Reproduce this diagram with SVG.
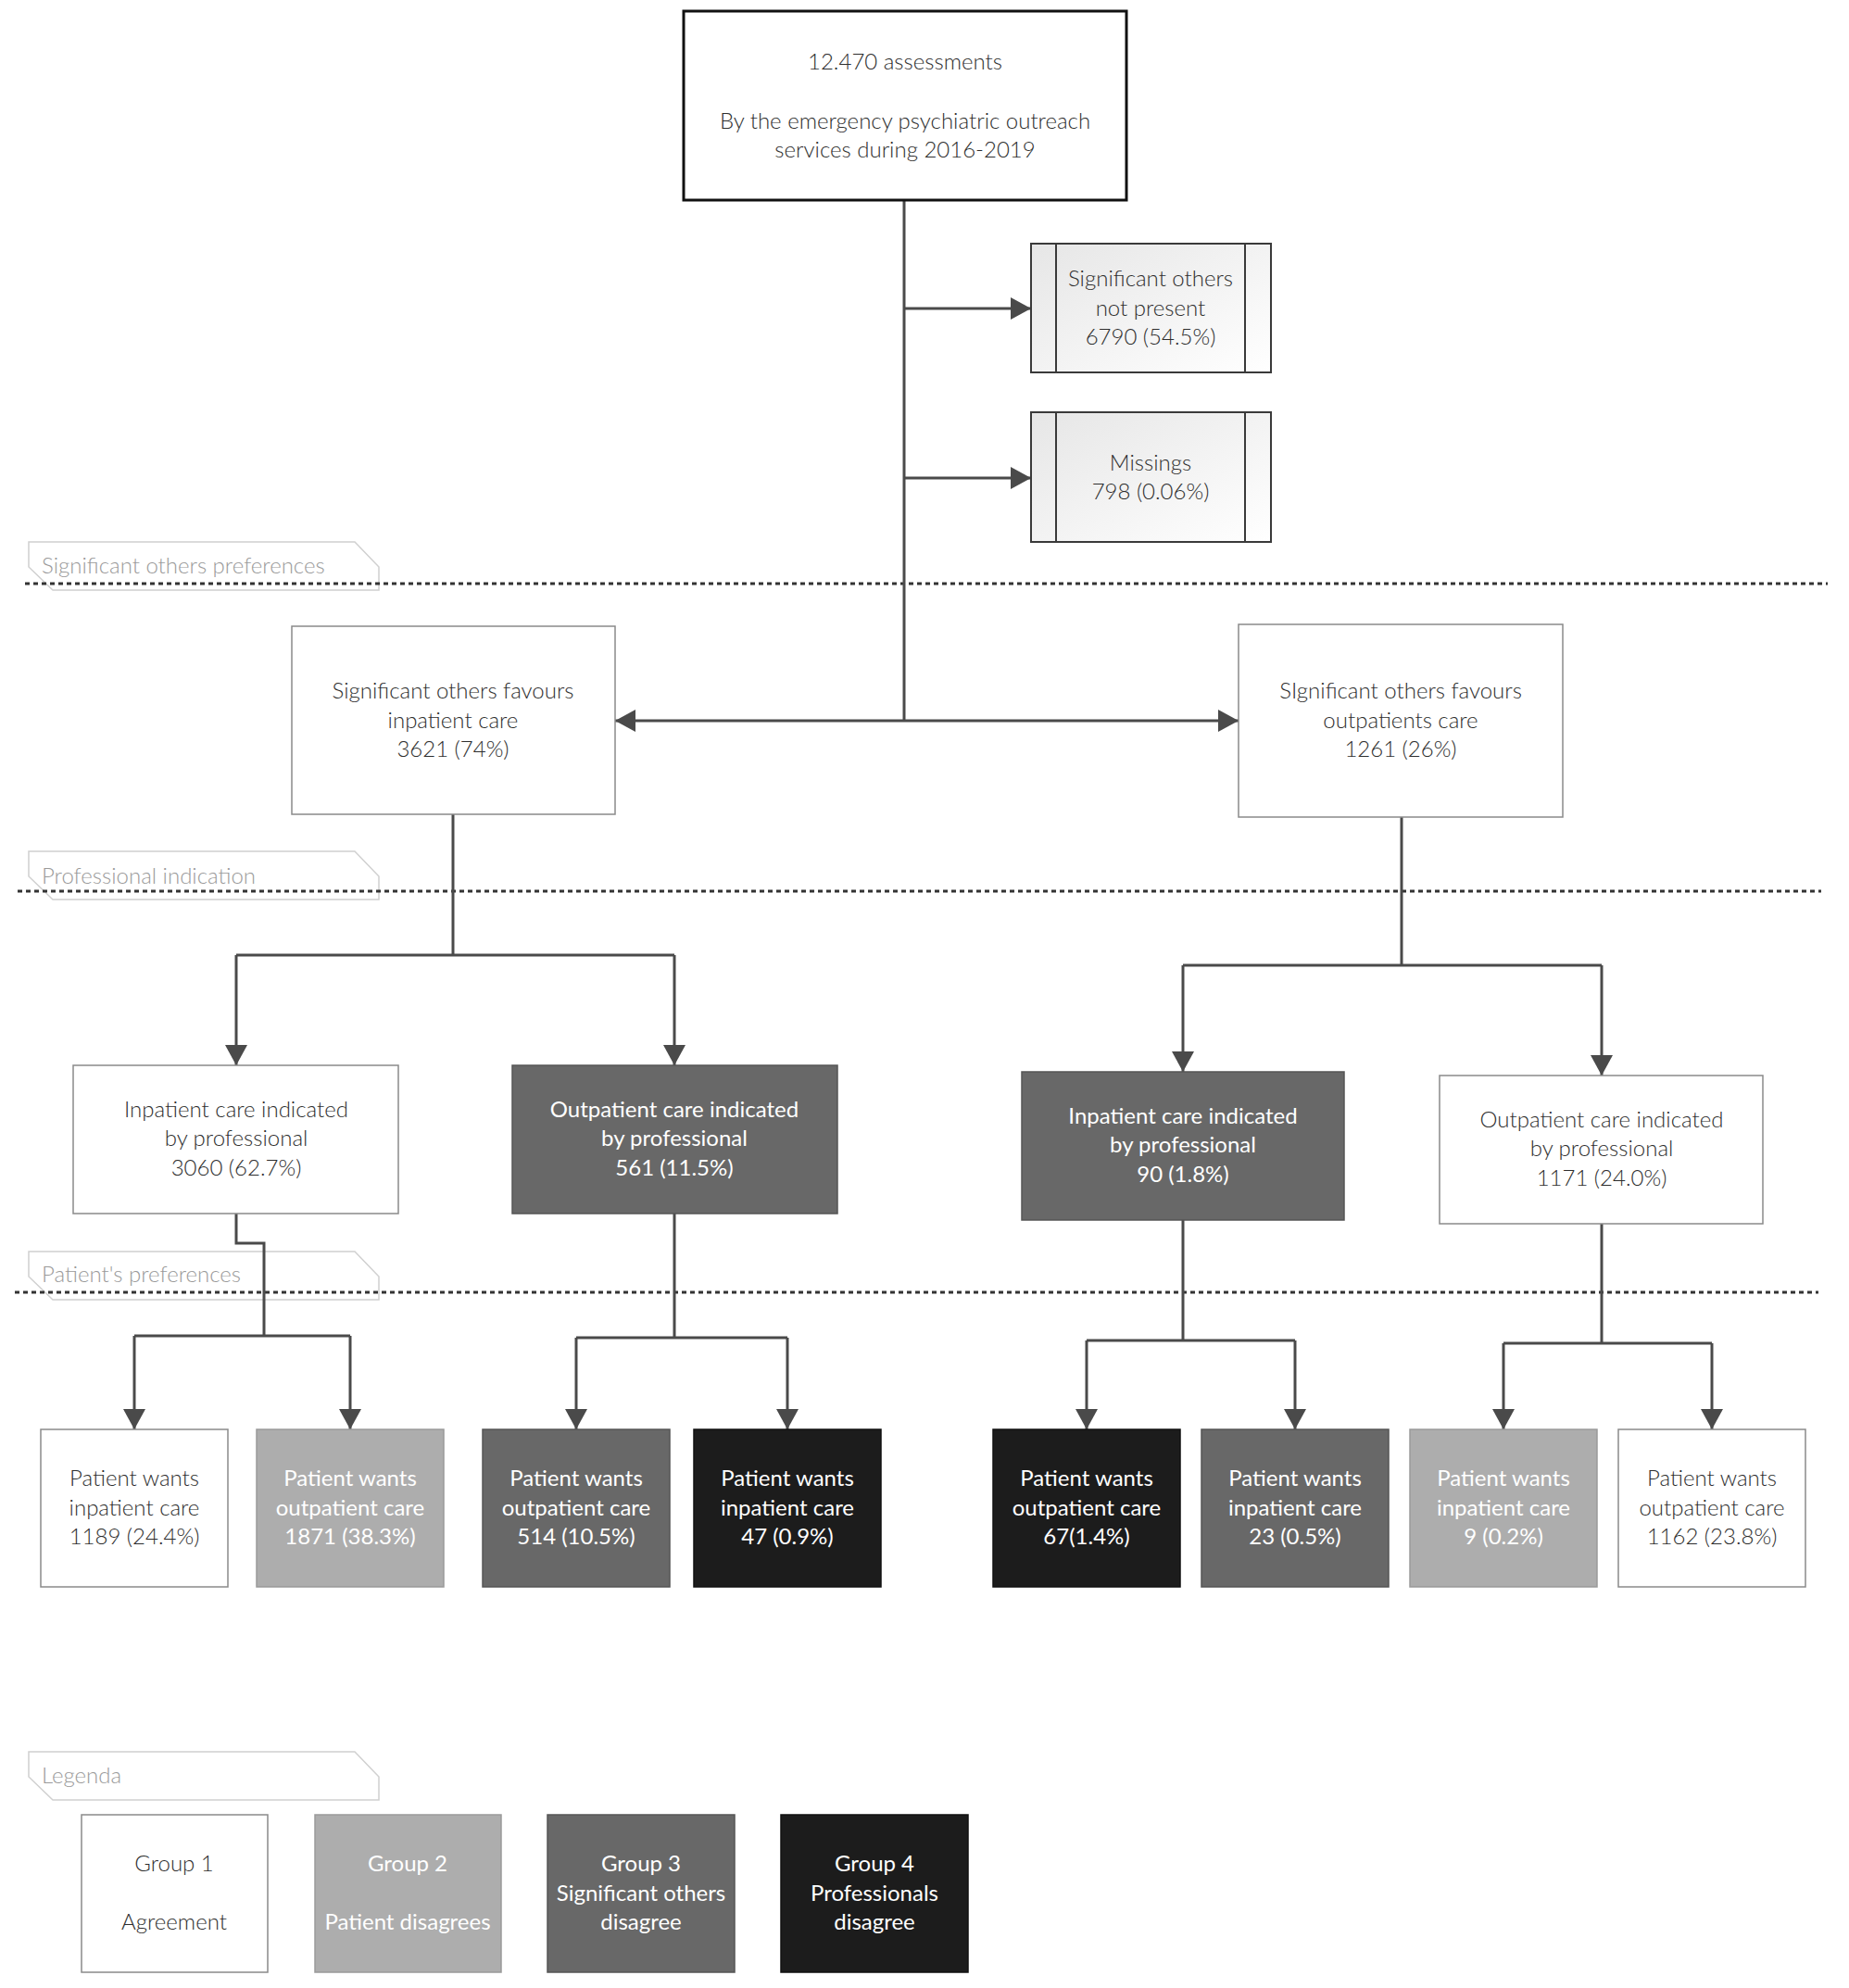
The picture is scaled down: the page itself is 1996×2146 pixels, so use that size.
<svg xmlns="http://www.w3.org/2000/svg" width="1996" height="2146" viewBox="0 0 1996 2146">
<style>
.t{font-family:Lato,"Liberation Sans",sans-serif;font-size:24px;font-weight:300;text-anchor:middle;fill:#2e2e2e}
.tw{font-family:Lato,"Liberation Sans",sans-serif;font-size:24px;text-anchor:middle;fill:#fff}
.tl{font-family:Lato,"Liberation Sans",sans-serif;font-size:24px;font-weight:300;fill:#9a9a9a}
.w{fill:#fff;stroke:#8a8a8a;stroke-width:1.5}
.g2{fill:#adadad;stroke:#9a9a9a;stroke-width:1.5}
.g3{fill:#686868;stroke:#555;stroke-width:1.5}
.g4{fill:#1c1c1c;stroke:#111;stroke-width:1.5}
.side{fill:url(#sg);stroke:#3a3a3a;stroke-width:2}
.tab{fill:#fff;stroke:#d0d0d0;stroke-width:1.5}
.dash{stroke:#333;stroke-width:3;stroke-dasharray:5 4;fill:none}
.c{fill:none;stroke:#4a4a4a;stroke-width:3}
.ca{fill:none;stroke:#4a4a4a;stroke-width:3;marker-end:url(#ah)}
</style>
<defs>
<marker id="ah" viewBox="0 0 22 24" refX="22" refY="12" markerWidth="22" markerHeight="24" markerUnits="userSpaceOnUse" orient="auto">
<path d="M0,0 L22,12 L0,24 Z" fill="#4a4a4a"/>
</marker>
<linearGradient id="sg" x1="0" y1="0" x2="1" y2="1">
<stop offset="0" stop-color="#e6e6e6"/>
<stop offset="1" stop-color="#ffffff"/>
</linearGradient>
</defs>
<rect width="1996" height="2146" fill="#fff"/>

<g id="separators">
<path class="tab" d="M31,585 H383 L409,612 V637 H57 L31,612 Z"/>
<text class="tl" x="45" y="619">Significant others preferences</text>
<line class="dash" x1="27" y1="630" x2="1973" y2="630"/>
<path class="tab" d="M31,919 H383 L409,946 V971 H57 L31,946 Z"/>
<text class="tl" x="45" y="954">Professional indication</text>
<line class="dash" x1="19" y1="962" x2="1966" y2="962"/>
<path class="tab" d="M31,1351 H383 L409,1378 V1403 H57 L31,1378 Z"/>
<text class="tl" x="45" y="1384">Patient's preferences</text>
<line class="dash" x1="16" y1="1395" x2="1963" y2="1395"/>
<path class="tab" d="M31,1891 H383 L409,1918 V1943 H57 L31,1918 Z"/>
<text class="tl" x="45" y="1925">Legenda</text>
</g>

<g id="connectors">
<path class="c" d="M976,216 V778"/>
<path class="ca" d="M976,333 H1113"/>
<path class="ca" d="M976,516 H1113"/>
<path class="ca" d="M976,778 H664"/>
<path class="ca" d="M976,778 H1337"/>
<path class="c" d="M489,879 V1031 H255 M489,1031 H728"/>
<path class="ca" d="M255,1031 V1150"/>
<path class="ca" d="M728,1031 V1150"/>
<path class="c" d="M1513,882 V1042 H1277 M1513,1042 H1729"/>
<path class="ca" d="M1277,1042 V1157"/>
<path class="ca" d="M1729,1042 V1161"/>
<path class="c" d="M255,1310 V1342 H285 V1442 H145 M285,1442 H378"/>
<path class="ca" d="M145,1442 V1543"/>
<path class="ca" d="M378,1442 V1543"/>
<path class="c" d="M728,1310 V1444 H622 M728,1444 H850"/>
<path class="ca" d="M622,1444 V1543"/>
<path class="ca" d="M850,1444 V1543"/>
<path class="c" d="M1277,1317 V1447 H1173 M1277,1447 H1398"/>
<path class="ca" d="M1173,1447 V1543"/>
<path class="ca" d="M1398,1447 V1543"/>
<path class="c" d="M1729,1321 V1450 H1623 M1729,1450 H1848"/>
<path class="ca" d="M1623,1450 V1543"/>
<path class="ca" d="M1848,1450 V1543"/>
</g>

<g id="n-top">
<rect x="738" y="12" width="478" height="204" fill="#fff" stroke="#111" stroke-width="3"/>
<text class="t" x="977" y="75">12.470 assessments</text>
<text class="t" x="977" y="139">By the emergency psychiatric outreach</text>
<text class="t" x="977" y="170">services during 2016-2019</text>
</g>

<g id="n-notpresent">
<rect class="side" x="1113" y="263" width="259" height="139"/>
<line x1="1140" y1="263" x2="1140" y2="402" stroke="#3a3a3a" stroke-width="2"/>
<line x1="1344" y1="263" x2="1344" y2="402" stroke="#3a3a3a" stroke-width="2"/>
<text class="t" x="1242" y="309">Significant others</text>
<text class="t" x="1242" y="341">not present</text>
<text class="t" x="1242" y="372">6790 (54.5%)</text>
</g>

<g id="n-missings">
<rect class="side" x="1113" y="445" width="259" height="140"/>
<line x1="1140" y1="445" x2="1140" y2="585" stroke="#3a3a3a" stroke-width="2"/>
<line x1="1344" y1="445" x2="1344" y2="585" stroke="#3a3a3a" stroke-width="2"/>
<text class="t" x="1242" y="508">Missings</text>
<text class="t" x="1242" y="539">798 (0.06%)</text>
</g>

<g id="n-so-in">
<rect class="w" x="315" y="676" width="349" height="203"/>
<text class="t" x="489" y="754">Significant others favours</text>
<text class="t" x="489" y="786">inpatient care</text>
<text class="t" x="489" y="817">3621 (74%)</text>
</g>

<g id="n-so-out">
<rect class="w" x="1337" y="674" width="350" height="208"/>
<text class="t" x="1512" y="754">SIgnificant others favours</text>
<text class="t" x="1512" y="786">outpatients care</text>
<text class="t" x="1512" y="817">1261 (26%)</text>
</g>

<g id="n-pi-in-left">
<rect class="w" x="79" y="1150" width="351" height="160"/>
<text class="t" x="255" y="1206">Inpatient care indicated</text>
<text class="t" x="255" y="1237">by professional</text>
<text class="t" x="255" y="1269">3060 (62.7%)</text>
</g>

<g id="n-pi-out-left">
<rect class="g3" x="553" y="1150" width="351" height="160"/>
<text class="tw" x="728" y="1206">Outpatient care indicated</text>
<text class="tw" x="728" y="1237">by professional</text>
<text class="tw" x="728" y="1269">561 (11.5%)</text>
</g>

<g id="n-pi-in-right">
<rect class="g3" x="1103" y="1157" width="348" height="160"/>
<text class="tw" x="1277" y="1213">Inpatient care indicated</text>
<text class="tw" x="1277" y="1244">by professional</text>
<text class="tw" x="1277" y="1276">90 (1.8%)</text>
</g>

<g id="n-pi-out-right">
<rect class="w" x="1554" y="1161" width="349" height="160"/>
<text class="t" x="1729" y="1217">Outpatient care indicated</text>
<text class="t" x="1729" y="1248">by professional</text>
<text class="t" x="1729" y="1280">1171 (24.0%)</text>
</g>

<g id="n-p1">
<rect class="w" x="44" y="1543" width="202" height="170"/>
<text class="t" x="145" y="1604">Patient wants</text>
<text class="t" x="145" y="1636">inpatient care</text>
<text class="t" x="145" y="1667">1189 (24.4%)</text>
</g>
<g id="n-p2">
<rect class="g2" x="277" y="1543" width="202" height="170"/>
<text class="tw" x="378" y="1604">Patient wants</text>
<text class="tw" x="378" y="1636">outpatient care</text>
<text class="tw" x="378" y="1667">1871 (38.3%)</text>
</g>
<g id="n-p3">
<rect class="g3" x="521" y="1543" width="202" height="170"/>
<text class="tw" x="622" y="1604">Patient wants</text>
<text class="tw" x="622" y="1636">outpatient care</text>
<text class="tw" x="622" y="1667">514 (10.5%)</text>
</g>
<g id="n-p4">
<rect class="g4" x="749" y="1543" width="202" height="170"/>
<text class="tw" x="850" y="1604">Patient wants</text>
<text class="tw" x="850" y="1636">inpatient care</text>
<text class="tw" x="850" y="1667">47 (0.9%)</text>
</g>
<g id="n-p5">
<rect class="g4" x="1072" y="1543" width="202" height="170"/>
<text class="tw" x="1173" y="1604">Patient wants</text>
<text class="tw" x="1173" y="1636">outpatient care</text>
<text class="tw" x="1173" y="1667">67(1.4%)</text>
</g>
<g id="n-p6">
<rect class="g3" x="1297" y="1543" width="202" height="170"/>
<text class="tw" x="1398" y="1604">Patient wants</text>
<text class="tw" x="1398" y="1636">inpatient care</text>
<text class="tw" x="1398" y="1667">23 (0.5%)</text>
</g>
<g id="n-p7">
<rect class="g2" x="1522" y="1543" width="202" height="170"/>
<text class="tw" x="1623" y="1604">Patient wants</text>
<text class="tw" x="1623" y="1636">inpatient care</text>
<text class="tw" x="1623" y="1667">9 (0.2%)</text>
</g>
<g id="n-p8">
<rect class="w" x="1747" y="1543" width="202" height="170"/>
<text class="t" x="1848" y="1604">Patient wants</text>
<text class="t" x="1848" y="1636">outpatient care</text>
<text class="t" x="1848" y="1667">1162 (23.8%)</text>
</g>

<g id="legend-1">
<rect class="w" x="88" y="1959" width="201" height="170"/>
<text class="t" x="188" y="2020">Group 1</text>
<text class="t" x="188" y="2083">Agreement</text>
</g>
<g id="legend-2">
<rect class="g2" x="340" y="1959" width="201" height="170"/>
<text class="tw" x="440" y="2020">Group 2</text>
<text class="tw" x="440" y="2083">Patient disagrees</text>
</g>
<g id="legend-3">
<rect class="g3" x="591" y="1959" width="202" height="170"/>
<text class="tw" x="692" y="2020">Group 3</text>
<text class="tw" x="692" y="2052">Significant others</text>
<text class="tw" x="692" y="2083">disagree</text>
</g>
<g id="legend-4">
<rect class="g4" x="843" y="1959" width="202" height="170"/>
<text class="tw" x="944" y="2020">Group 4</text>
<text class="tw" x="944" y="2052">Professionals</text>
<text class="tw" x="944" y="2083">disagree</text>
</g>
</svg>
